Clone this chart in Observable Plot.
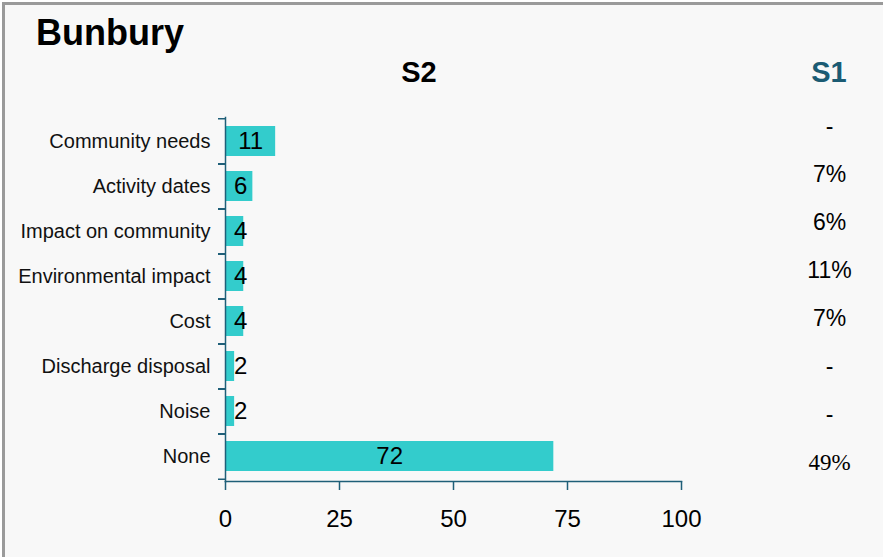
<!DOCTYPE html>
<html>
<head>
<meta charset="utf-8">
<script src="https://cdn.jsdelivr.net/npm/d3@7"></script>
<script src="https://cdn.jsdelivr.net/npm/@observablehq/plot@0.6"></script>
<style>
  html, body { margin: 0; padding: 0; background: #ffffff; overflow: hidden; }
  #box { position: absolute; left: 2px; top: 2px; width: 881px; height: 560px;
         background: #f8f8f8; border-top: 3px solid #9a9a9a; border-left: 3px solid #9a9a9a; box-sizing: border-box; }
  .hdr { position: absolute; font-family: "Liberation Sans", Arial, sans-serif; font-weight: bold; line-height: 1; white-space: nowrap; }
  #title { left: 36px; top: 15px; font-size: 36px; color: #000; }
  #s2 { left: 419px; top: 58px; font-size: 29px; transform: translateX(-50%); color: #000; }
  #s1 { left: 829px; top: 58px; font-size: 29px; transform: translateX(-50%); color: #1b5b73; }
  #chart { position: absolute; left: 0; top: 0; width: 885px; }
  #s1col { position: absolute; left: 789px; top: 0; width: 80px; }
  #chart svg, #s1col svg { max-width: none !important; }
</style>
</head>
<body>
<div id="box"></div>
<div id="chart"></div>
<div id="s1col"></div>
<div class="hdr" id="title">Bunbury</div>
<div class="hdr" id="s2">S2</div>
<div class="hdr" id="s1">S1</div>
<script>
const categories = ["Community needs", "Activity dates", "Impact on community", "Environmental impact", "Cost", "Discharge disposal", "Noise", "None"];
const s2Values = [11, 6, 4, 4, 4, 2, 2, 72];
const s1Values = [null, 7, 6, 11, 7, null, null, 49];
const xTicks = [0, 25, 50, 75, 100];

const data = categories.map((c, i) => ({category: c, s2: s2Values[i], s1: s1Values[i], serif: i === categories.length - 1}));

const W = 885, H = 557;
const mTop = 117, mBottom = 76, mLeft = 225, mRight = 204;
const step = (H - mTop - mBottom) / categories.length;
const axisColor = "#1f5f78";
const barColor = "#33cccc";
const sans = "'Liberation Sans', Arial, sans-serif";
const serif = "'Liberation Serif', 'Times New Roman', serif";

const chart = Plot.plot({
  width: W,
  height: H,
  marginTop: mTop,
  marginBottom: mBottom,
  marginLeft: mLeft,
  marginRight: mRight,
  style: {background: "transparent", fontFamily: sans, color: "#000"},
  x: {domain: [0, 100]},
  y: {domain: categories, paddingInner: 0.325, paddingOuter: 0.1625},
  marks: [
    Plot.barX(data, {y: "category", x: "s2", fill: barColor}),
    Plot.text(data, {y: "category", x: d => Math.max(d.s2 / 2, 3.3), text: d => String(d.s2), fontSize: 24, fill: "#000", fontFamily: sans}),
    Plot.frame({anchor: "left", stroke: axisColor, strokeWidth: 1.5}),
    Plot.frame({anchor: "bottom", stroke: axisColor, strokeWidth: 1.5}),
    Plot.ruleY(categories, {y: d => d, x1: 0, x2: 0, insetLeft: -7, dy: -step / 2, stroke: axisColor, strokeWidth: 1.5}),
    Plot.ruleY(categories, {y: d => d, x1: 0, x2: 0, insetLeft: -7, dy: step / 2, stroke: axisColor, strokeWidth: 1.5}),
    Plot.axisY({tickSize: 0, tickPadding: 15, fontSize: 20, fill: "#111", label: null}),
    Plot.axisX({ticks: xTicks, tickSize: 9, tickPadding: 19, fontSize: 24, stroke: axisColor, strokeWidth: 1.5, fill: "#000", label: null, tickFormat: d => String(d)})
  ]
});
document.getElementById("chart").appendChild(chart);

// S1 column: a separate evenly spaced list to the right (point scale)
const s1Chart = Plot.plot({
  width: 80,
  height: H,
  marginTop: 126,
  marginBottom: 95,
  marginLeft: 0,
  marginRight: 0,
  style: {background: "transparent", fontFamily: sans, color: "#000"},
  y: {domain: categories, type: "point", padding: 0, axis: null},
  marks: [
    Plot.text(data.filter(d => !d.serif), {y: "category", text: d => d.s1 == null ? "-" : d.s1 + "%", fontSize: 23, fill: "#000", fontFamily: sans}),
    Plot.text(data.filter(d => d.serif), {y: "category", text: d => d.s1 == null ? "-" : d.s1 + "%", fontSize: 23, fill: "#000", fontFamily: serif})
  ]
});
document.getElementById("s1col").appendChild(s1Chart);
</script>
</body>
</html>
